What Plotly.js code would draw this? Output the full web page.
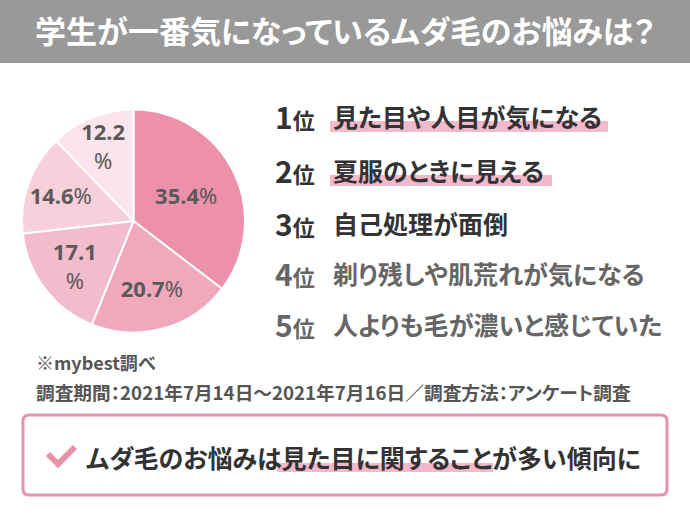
<!DOCTYPE html>
<html>
<head>
<meta charset="utf-8">
<script src="https://cdn.plot.ly/plotly-3.0.1.min.js"></script>
<style>html,body{margin:0;padding:0;background:#fff;}#chart{width:690px;height:518px;}
svg text{font-feature-settings:"palt" 1;}</style>
</head>
<body>
<div id="chart"></div>
<script>
// ---- data ----
var titleText = '学生が一番気になっているムダ毛のお悩みは？';
var sliceLabels = ['見た目や人目が気になる', '夏服のときに見える', '自己処理が面倒', '剃り残しや肌荒れが気になる', '人よりも毛が濃いと感じていた'];
var sliceValues = [35.4, 20.7, 17.1, 14.6, 12.2];
var sliceColors = ['#ec90ac', '#f0a8bd', '#f3bccc', '#f7d0db', '#fbe4eb'];
var rankNums = ['1', '2', '3', '4', '5'];
var rankTexts = ['見た目や人目が気になる', '夏服のときに見える', '自己処理が面倒', '剃り残しや肌荒れが気になる', '人よりも毛が濃いと感じていた'];
var noteSource = '※mybest調べ';
var notePeriod = '調査期間：2021年7月14日～2021年7月16日／調査方法：アンケート調査';
var conclusion = 'ムダ毛のお悩みは見た目に関することが多い傾向に';

// ---- layout helpers ----
var W = 690, H = 518;
function px(x) { return x / W; }
function py(y) { return 1 - y / H; }
var JP = '"Noto Sans CJK JP", "Noto Sans", sans-serif';

var templates = sliceValues.map(function (v, i) {
  return (i === 2 || i === 4) ? '<b>%{value}</b><br>%' : '<b>%{value}</b>%';
});

var trace = {
  type: 'pie',
  labels: sliceLabels,
  values: sliceValues,
  sort: false,
  direction: 'clockwise',
  rotation: 0,
  marker: { colors: sliceColors, line: { color: '#ffffff', width: 2 } },
  texttemplate: templates,
  textposition: 'inside',
  insidetextorientation: 'horizontal',
  textfont: { family: '"Noto Sans", "Noto Sans CJK JP", sans-serif', size: 22, color: '#5a5a5a' },
  hoverinfo: 'none',
  domain: { x: [px(22), px(245)], y: [py(333), py(109)] },
  showlegend: false
};

var shapes = [];
var annotations = [];

// banner
shapes.push({ type: 'rect', xref: 'paper', yref: 'paper', x0: 0, x1: 1, y0: py(63), y1: 1,
  fillcolor: '#999999', line: { width: 0 }, layer: 'below' });

// ranking lines
var lineY = [116, 170, 223, 273, 324];
var hlEnd = [608, 552];
rankNums.forEach(function (n, i) {
  var col = i < 3 ? '#333333' : '#666666';
  annotations.push({ xref: 'paper', yref: 'paper', x: px(273), y: py(lineY[i]), xanchor: 'left', yanchor: 'middle',
    showarrow: false, text: '<b><span style="font-size:30px">' + n + '</span>位</b>',
    font: { family: JP, size: 22, color: col } });
  annotations.push({ xref: 'paper', yref: 'paper', x: px(331), y: py(lineY[i]), xanchor: 'left', yanchor: 'middle',
    showarrow: false, text: '<b>' + rankTexts[i] + '</b>',
    font: { family: JP, size: 25, color: col } });
  if (i < 2) {
    shapes.push({ type: 'rect', xref: 'paper', yref: 'paper', x0: px(330), x1: px(hlEnd[i]),
      y0: py(lineY[i] + 16), y1: py(lineY[i] + 5), fillcolor: '#f3b8ca', line: { width: 0 }, layer: 'below' });
  }
});

// notes
annotations.push({ xref: 'paper', yref: 'paper', x: px(34), y: py(362), xanchor: 'left', yanchor: 'middle',
  showarrow: false, text: '<b>' + noteSource + '</b>', font: { family: JP, size: 18, color: '#555555' } });
annotations.push({ xref: 'paper', yref: 'paper', x: px(34), y: py(391), xanchor: 'left', yanchor: 'middle',
  showarrow: false, text: '<b>' + notePeriod + '</b>', font: { family: JP, size: 18.7, color: '#555555' } });

// conclusion box (rounded)
(function () {
  var x0 = 23, x1 = 667, y0 = 415, y1 = 495, r = 6;
  var p = 'M ' + px(x0 + r) + ',' + py(y0) +
    ' L ' + px(x1 - r) + ',' + py(y0) +
    ' Q ' + px(x1) + ',' + py(y0) + ' ' + px(x1) + ',' + py(y0 + r) +
    ' L ' + px(x1) + ',' + py(y1 - r) +
    ' Q ' + px(x1) + ',' + py(y1) + ' ' + px(x1 - r) + ',' + py(y1) +
    ' L ' + px(x0 + r) + ',' + py(y1) +
    ' Q ' + px(x0) + ',' + py(y1) + ' ' + px(x0) + ',' + py(y1 - r) +
    ' L ' + px(x0) + ',' + py(y0 + r) +
    ' Q ' + px(x0) + ',' + py(y0) + ' ' + px(x0 + r) + ',' + py(y0) + ' Z';
  shapes.push({ type: 'path', xref: 'paper', yref: 'paper', path: p, line: { color: '#e991ab', width: 3 }, layer: 'below' });
  // checkmark
  var c = 'M ' + px(48) + ',' + py(454) + ' L ' + px(58) + ',' + py(464) + ' L ' + px(75) + ',' + py(447);
  shapes.push({ type: 'path', xref: 'paper', yref: 'paper', path: c, line: { color: '#e991ab', width: 6 }, layer: 'below' });
  // highlight under text
  shapes.push({ type: 'rect', xref: 'paper', yref: 'paper', x0: px(277), x1: px(493), y0: py(472), y1: py(463),
    fillcolor: '#f3b8ca', line: { width: 0 }, layer: 'below' });
})();

annotations.push({ xref: 'paper', yref: 'paper', x: px(84), y: py(457), xanchor: 'left', yanchor: 'middle',
  showarrow: false, text: '<b>' + conclusion + '</b>', font: { family: JP, size: 25, color: '#333333' } });

var layout = {
  width: W, height: H,
  margin: { l: 0, r: 0, t: 0, b: 0 },
  paper_bgcolor: '#ffffff',
  plot_bgcolor: '#ffffff',
  uniformtext: { mode: 'show', minsize: 22 },
  title: { text: '<b>' + titleText + '</b>', x: 0.5, xanchor: 'center', y: py(32), yanchor: 'middle', yref: 'paper',
    font: { family: JP, size: 31, color: '#ffffff' } },
  shapes: shapes,
  annotations: annotations,
  showlegend: false
};

Plotly.newPlot('chart', [trace], layout, { displayModeBar: false, staticPlot: true });
</script>
</body>
</html>
